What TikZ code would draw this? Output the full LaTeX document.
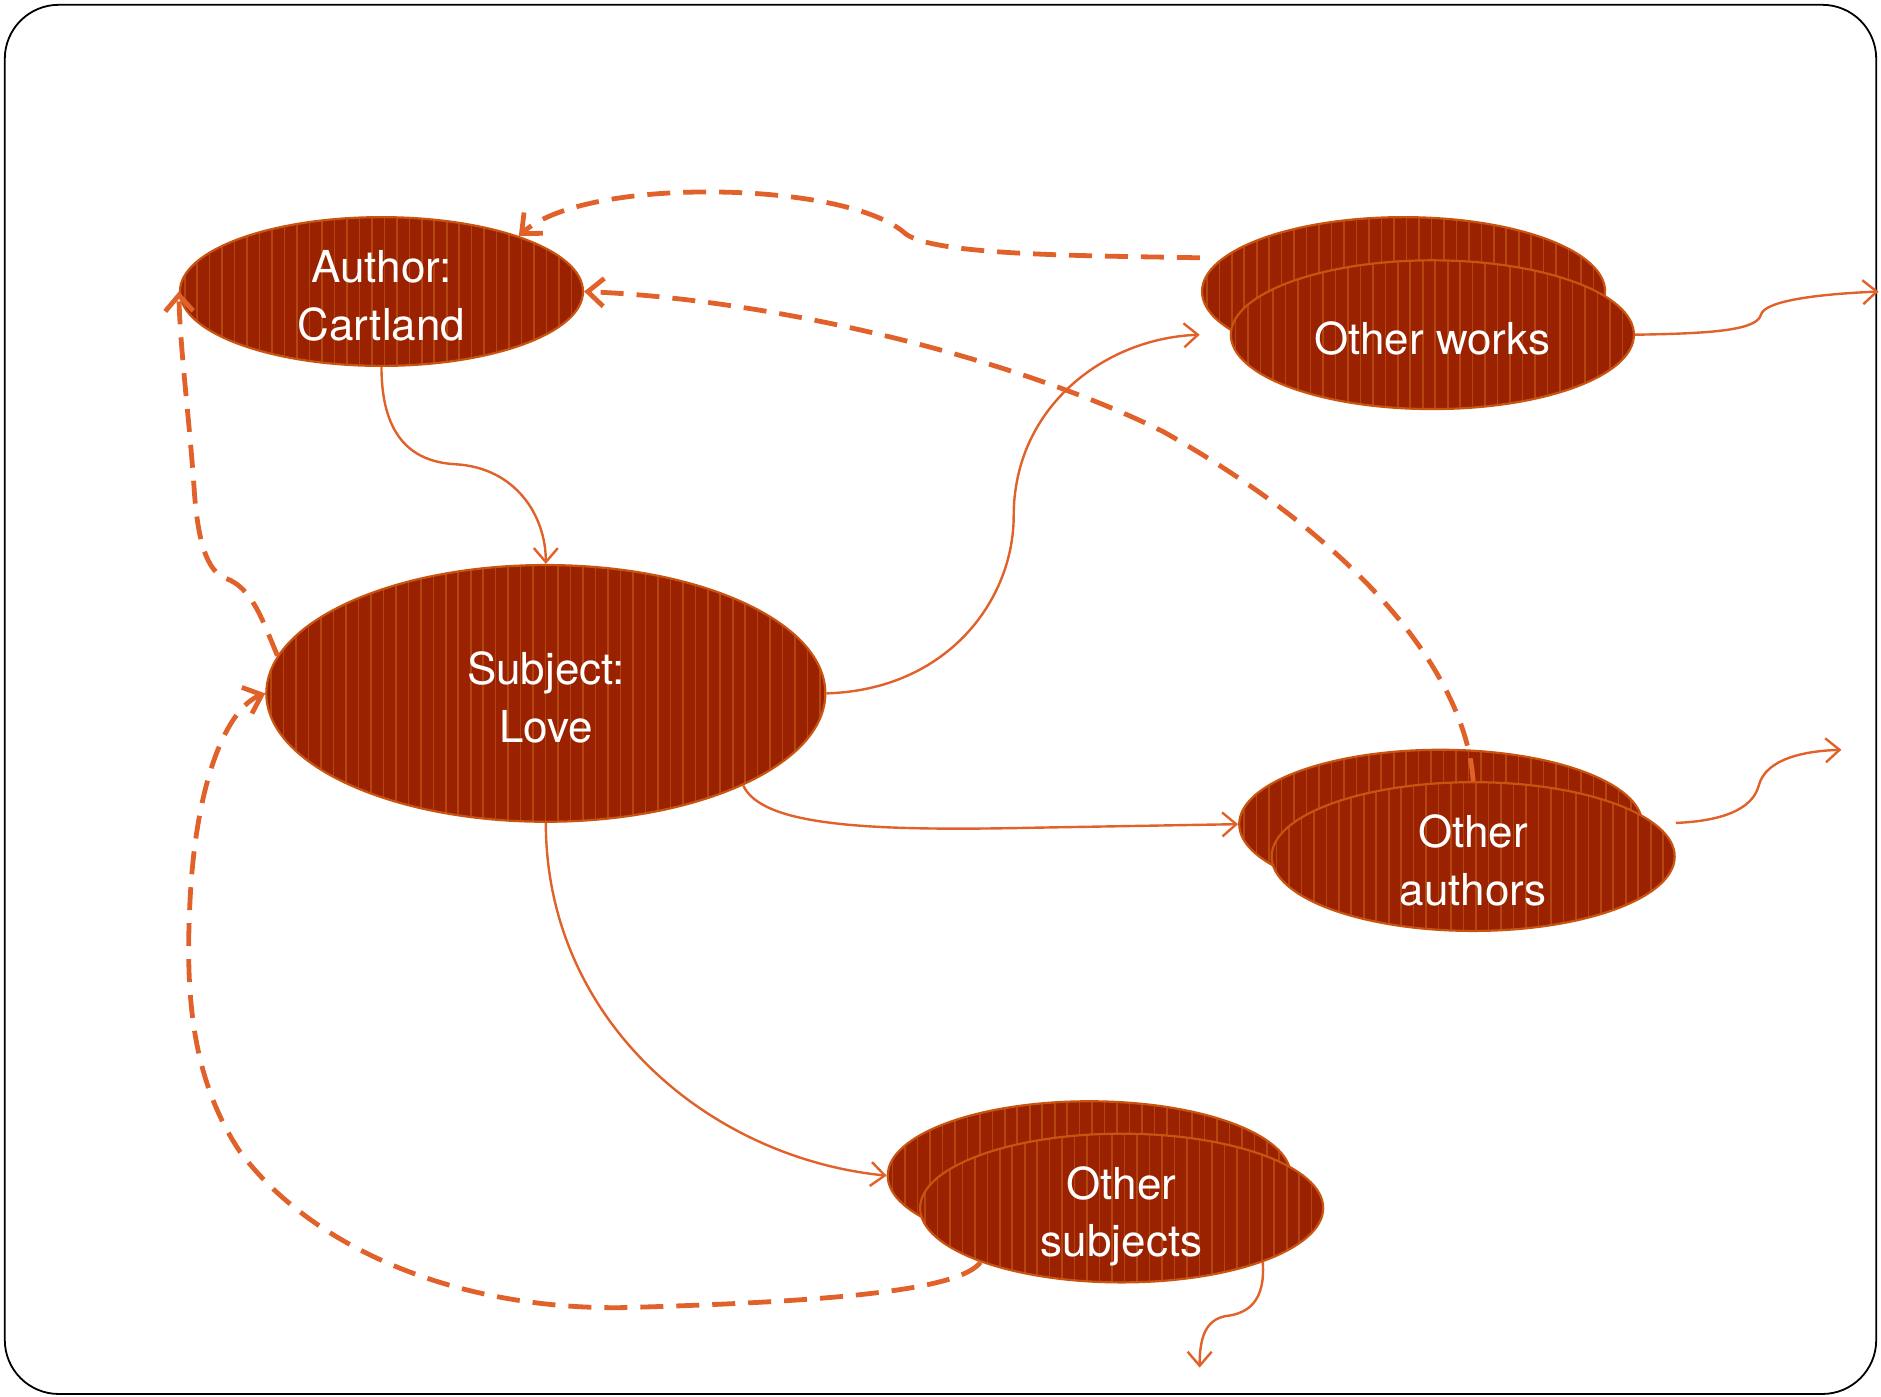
\documentclass[tikz,border=0pt]{standalone}
\usepackage{fontspec}
\setmainfont{TeX Gyre Heros}
\usetikzlibrary{shapes.geometric,arrows.meta,calc}
\definecolor{ln}{HTML}{E0622A}
\definecolor{fillc}{HTML}{9B2200}
\definecolor{strp}{HTML}{B6460F}
\definecolor{bord}{HTML}{C8540F}
\newcommand\blobtext[1]{\raisebox{-4.2pt}[\height][\depth]{\begin{tabular}{@{}c@{}}#1\end{tabular}}}
\begin{document}
\begin{tikzpicture}[x=0.6pt,y=-0.6pt,
  blob/.style={ellipse, draw=bord, line width=1.1pt, fill=fillc, text=white,
    inner sep=-6pt, font=\fontsize{22}{28.8}\selectfont,
    path picture={\foreach \i in {0,...,50}{\draw[strp, line width=0.8pt]
      ($(path picture bounding box.south west)+(\i*10.4+4,0)$) --
      ($(path picture bounding box.north west)+(\i*10.4+4,0)$);}}},
  smallblob/.style={blob, minimum width=201.6pt, minimum height=74.4pt},
  bigblob/.style={blob, minimum width=279.6pt, minimum height=128.4pt},
  solidc/.style={draw=ln, line width=1.2pt, -{Straight Barb[length=7pt,width=12pt]}},
  dashc/.style={draw=ln, line width=2.4pt, dash pattern=on 11.5pt off 6.5pt,
    -{Straight Barb[length=8pt,width=14pt]}}]
\useasboundingbox (0,0) rectangle (1568,1164.5);
\draw[line width=0.9pt, rounded corners=27pt] (4,4) rectangle (1564,1162);

\node[smallblob] (author) at (318,243) {\blobtext{Author:\\Cartland}};
\node[bigblob] (subject) at (455,578) {\blobtext{Subject:\\Love}};
\node[smallblob] (worksB) at (1170,243) {};
\node[smallblob] (works) at (1194,279) {\blobtext{Other works}};
\node[smallblob] (authorsB) at (1201,687) {};
\node[smallblob] (authors) at (1228,714) {\blobtext{Other\\authors}};
\node[smallblob] (subjB) at (908,980) {};
\node[smallblob] (subj) at (935,1007) {\blobtext{Other\\subjects}};

\coordinate (wend) at (1566,243);
\coordinate (fend) at (1535,625);
\coordinate (gend) at (1000,1140);

% solid connectors
\draw[solidc] (author.south) .. controls (318,360) and (340,385) .. (380,387)
  .. controls (430,390) and (455,430) .. (subject.north);
\draw[solidc] (subject.east) .. controls (790,575) and (845,500) .. (845,430)
  .. controls (845,340) and (920,282) .. ($(works.west)+(-25,0)$);
\draw[solidc] (subject.-25) .. controls (635,688) and (720,693) .. (860,690) -- (authorsB.west);
\draw[solidc] (subject.south) .. controls (455,850) and (590,965) .. (subjB.west);
\draw[solidc] (works.east) .. controls (1430,278) and (1465,275) .. (1468,262)
  .. controls (1472,250) and (1520,245) .. (wend);
\draw[solidc] ($(authors.east)+(0,-28)$) .. controls (1445,684) and (1462,670) .. (1466,655)
  .. controls (1472,632) and (1505,626) .. (fend);
\draw[solidc] (subj.-21) .. controls (1055,1085) and (1040,1095) .. (1022,1097)
  .. controls (1005,1100) and (1000,1115) .. (gend);

% dashed connectors
\draw[dashc] ($(worksB.169)+(-20,1)$) .. controls (900,213) and (780,213) .. (755,195)
  .. controls (730,172) and (660,160) .. (590,160)
  .. controls (520,160) and (460,172) .. (author.22);
\draw[dashc] (authors.north) .. controls (1222,560) and (1130,450) .. (970,360)
  .. controls (850,300) and (650,250) .. (author.east);
\draw[dashc] (subject.172) .. controls (218,515) and (210,490) .. (188,482)
  .. controls (172,476) and (165,450) .. (162,410)
  .. controls (158,350) and (150,290) .. (author.west);
\draw[dashc] (subj.201) .. controls (800,1075) and (700,1085) .. (520,1090)
  .. controls (380,1092) and (260,1040) .. (200,960)
  .. controls (160,900) and (155,830) .. (158,760)
  .. controls (162,650) and (190,590) .. (subject.west);
\end{tikzpicture}
\end{document}
